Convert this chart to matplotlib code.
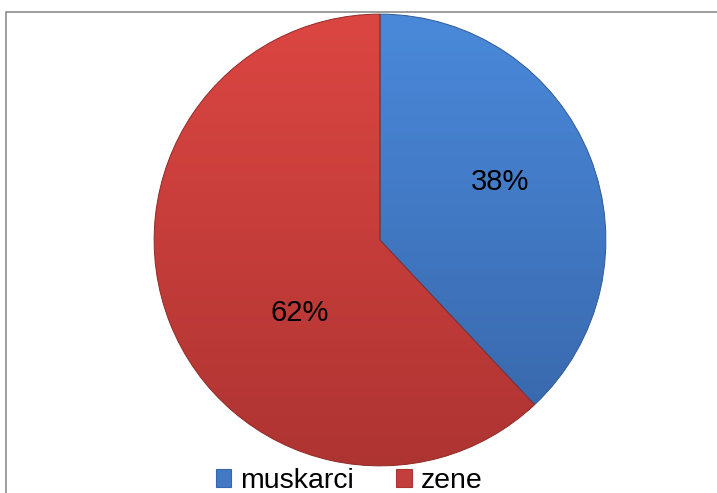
import matplotlib.pyplot as plt
import numpy as np
from matplotlib.colors import LinearSegmentedColormap
from matplotlib.patches import Rectangle

plt.rcParams['font.family'] = ['Liberation Sans', 'DejaVu Sans']

# Datos
categorias = ['muskarci', 'zene']
valores = [38, 62]
etiquetas = ['38%', '62%']

color_arriba = ['#4A89DA', '#DC4642']
color_abajo = ['#3765A8', '#AE3432']
color_base = ['#4179C4', '#C23F3C']
color_borde = ['#2f5a94', '#8f2a28']

fig = plt.figure(figsize=(7.17, 4.93), dpi=100)
fig.patches.append(Rectangle((6 / 717, -0.1), 1.2, 1 - 12 / 493 + 0.1,
                             transform=fig.transFigure, fill=False,
                             edgecolor='#8c8c8c', linewidth=1.2))

ax = fig.add_axes([153 / 717, 26 / 493, 454 / 717, 454 / 493])
wedges, _ = ax.pie(valores, colors=color_base, startangle=90, counterclock=False,
                   radius=1, wedgeprops=dict(linewidth=0.7))

# degradado vertical dentro de cada sector
grad = np.linspace(0, 1, 256).reshape(-1, 1)
for w, c1, c2, cb in zip(wedges, color_arriba, color_abajo, color_borde):
    cmap = LinearSegmentedColormap.from_list('g', [c1, c2])
    im = ax.imshow(grad, cmap=cmap, extent=[-1, 1, -1, 1], aspect='auto', zorder=w.get_zorder())
    im.set_clip_path(w)
    w.set_facecolor('none')
    w.set_edgecolor(cb)
    w.set_zorder(3)

# etiquetas de porcentaje
pos_etiquetas = [(0.533, 0.256), (-0.357, -0.322)]
for txt, (x, y) in zip(etiquetas, pos_etiquetas):
    ax.text(x, y, txt, ha='center', va='center', fontsize=21, color='black', zorder=5)

ax.set_xlim(-1.005, 1.005)
ax.set_ylim(-1.005, 1.005)
ax.set_aspect('equal')
ax.axis('off')

handles = [Rectangle((0, 0), 1, 1, facecolor=c, edgecolor=e, linewidth=0.8)
           for c, e in zip(color_base, color_abajo)]
fig.legend(handles, categorias, loc='center', bbox_to_anchor=(349 / 717, 1 - 481 / 493),
           ncol=2, frameon=False, fontsize=20.5, handlelength=0.55, handleheight=0.55,
           handletextpad=0.3, columnspacing=1.5, borderpad=0)

fig.savefig('out.png', dpi=100)
